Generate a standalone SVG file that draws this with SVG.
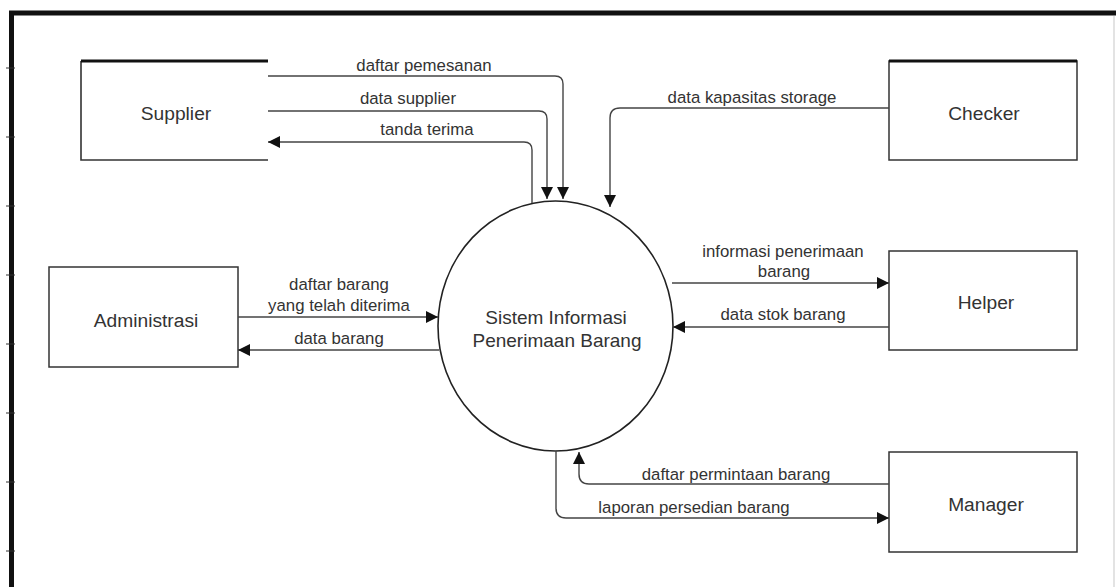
<svg xmlns="http://www.w3.org/2000/svg" width="1116" height="587" viewBox="0 0 1116 587">
<defs>
<style>
.box{fill:#fff;stroke:#333;stroke-width:1.5}
.edge{fill:none;stroke:#333;stroke-width:1.6}
.thick{fill:none;stroke:#111;stroke-width:3}
.conn{fill:none;stroke:#444;stroke-width:1.4}
.ent{font-family:"Liberation Sans",Arial,sans-serif;font-size:19.2px;fill:#333;text-anchor:middle}
.lbl{font-family:"Liberation Sans",Arial,sans-serif;font-size:16.8px;fill:#333;text-anchor:middle}
.proc{font-family:"Liberation Sans",Arial,sans-serif;font-size:19px;fill:#333;text-anchor:middle}
</style>
<marker id="arr" markerUnits="userSpaceOnUse" markerWidth="13" markerHeight="12" refX="12" refY="6" orient="auto">
<path d="M0,0 L12,6 L0,12 z" fill="#111"/>
</marker>
</defs>
<rect width="1116" height="587" fill="#fff"/>
<g id="frame">
<path d="M11.5,587 V13 H1116" fill="none" stroke="#111" stroke-width="5"/>
<line x1="1114" y1="16" x2="1114" y2="587" stroke="#d0d0d0" stroke-width="1.2"/>
<path d="M6,68 H15 M6,137 H15 M6,206 H15 M6,275 H15 M6,344 H15 M6,413 H15 M6,482 H15 M6,551 H15" stroke="#333" stroke-width="1"/>
</g>
<g id="supplier">
<path class="edge" d="M81,61 V160 H268"/>
<line class="thick" x1="81" y1="61" x2="268" y2="61"/>
<text class="ent" x="176" y="120">Supplier</text>
</g>
<g id="checker">
<rect class="box" x="889" y="61" width="188" height="99"/>
<line class="thick" x1="889" y1="61" x2="1077" y2="61"/>
<text class="ent" x="984" y="120">Checker</text>
</g>
<g id="administrasi">
<rect class="box" x="49" y="267" width="189" height="100"/>
<text class="ent" x="146" y="327">Administrasi</text>
</g>
<g id="helper">
<rect class="box" x="889" y="251" width="188" height="99"/>
<text class="ent" x="986" y="309">Helper</text>
</g>
<g id="manager">
<rect class="box" x="889" y="452" width="188" height="100"/>
<text class="ent" x="986" y="511">Manager</text>
</g>
<g id="process">
<ellipse cx="555.5" cy="326" rx="117.5" ry="125" fill="#fff" stroke="#222" stroke-width="1.6"/>
<text class="proc" x="556" y="324">Sistem Informasi</text>
<text class="proc" x="557" y="347">Penerimaan Barang</text>
</g>
<g id="connectors">
<path class="conn" d="M268,76 H555 Q563,76 563,84 V199" marker-end="url(#arr)"/>
<path class="conn" d="M268,111 H539 Q547,111 547,119 V199" marker-end="url(#arr)"/>
<path class="conn" d="M532,203 V150 Q532,142 524,142 H268" marker-end="url(#arr)"/>
<path class="conn" d="M889,108 H620 Q610,108 610,118 V207" marker-end="url(#arr)"/>
<path class="conn" d="M238,317 H438" marker-end="url(#arr)"/>
<path class="conn" d="M439,350 H238" marker-end="url(#arr)"/>
<path class="conn" d="M672,283 H889" marker-end="url(#arr)"/>
<path class="conn" d="M889,327 H673" marker-end="url(#arr)"/>
<path class="conn" d="M889,484 H589 Q579,484 579,474 V452" marker-end="url(#arr)"/>
<path class="conn" d="M556,451 V508 Q556,518 566,518 H889" marker-end="url(#arr)"/>
</g>
<g id="labels">
<text class="lbl" x="424" y="71">daftar pemesanan</text>
<text class="lbl" x="408" y="104">data supplier</text>
<text class="lbl" x="427" y="135">tanda terima</text>
<text class="lbl" x="752" y="103">data kapasitas storage</text>
<text class="lbl" x="339" y="290">daftar barang</text>
<text class="lbl" x="339" y="311">yang telah diterima</text>
<text class="lbl" x="339" y="344">data barang</text>
<text class="lbl" x="783" y="257">informasi penerimaan</text>
<text class="lbl" x="784" y="277">barang</text>
<text class="lbl" x="783" y="320">data stok barang</text>
<text class="lbl" x="736" y="480">daftar permintaan barang</text>
<text class="lbl" x="694" y="513">laporan persedian barang</text>
</g>
</svg>
